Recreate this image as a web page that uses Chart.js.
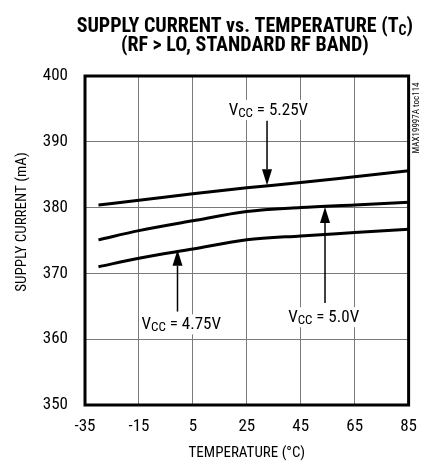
<!DOCTYPE html>
<html>
<head>
<meta charset="utf-8">
<script src="https://cdn.jsdelivr.net/npm/chart.js@4.4.0/dist/chart.umd.min.js"></script>
<style>
    html, body { margin: 0; padding: 0; background: #fff; }
</style>
</head>
<body>
<canvas id="chart" width="429" height="464"></canvas>
<script>
// Data
const temps = [-30, -15, 5, 25, 45, 65, 85];
const vcc525 = [380.4, 381.1, 382.1, 383.0, 383.8, 384.7, 385.6];
const vcc500 = [375.1, 376.5, 378.0, 379.4, 380.0, 380.4, 380.8];
const vcc475 = [371.0, 372.3, 373.7, 375.1, 375.7, 376.2, 376.7];
const xTicks = [-35, -15, 5, 25, 45, 65, 85];
const yTicks = [350, 360, 370, 380, 390, 400];

const FONT = "'Roboto Condensed', 'Liberation Sans', sans-serif";

// Callouts: label, arrow x, arrow tail/tip and label centre (data units)
const callouts = [
    { value: '5.25V', x: 32.5, tail: 393.2, tip: 383.4, textX: 33, textY: 395.0 },
    { value: '5.0V', x: 54, tail: 365.5, tip: 380.1, textX: 53.5, textY: 363.5 },
    { value: '4.75V', x: -0.7, tail: 364.2, tip: 373.6, textX: 0.7, textY: 362.4 }
];

function toPoints(values) {
    return temps.map((t, i) => ({ x: t, y: values[i] }));
}

function lineSet(label, values) {
    return {
        label: label,
        data: toPoints(values),
        borderColor: '#000',
        borderWidth: 3,
        pointRadius: 0,
        tension: 0.25,
        cubicInterpolationMode: 'monotone',
        fill: false
    };
}

// text runs: [text, font, baseline shift]
function drawRuns(ctx, runs, cx, baseY, clear) {
    let w = 0;
    runs.forEach(r => { ctx.font = r[1]; r.w = ctx.measureText(r[0]).width; w += r.w; });
    let x = cx - w / 2;
    if (clear) {
        ctx.fillStyle = '#fff';
        ctx.fillRect(x - 2, baseY - 15, w + 4, 20);
    }
    ctx.fillStyle = '#000';
    ctx.textAlign = 'left';
    ctx.textBaseline = 'alphabetic';
    runs.forEach(r => {
        ctx.font = r[1];
        ctx.fillText(r[0], x, baseY + r[2]);
        x += r.w;
    });
}

function drawArrow(ctx, x, yTail, yTip) {
    const dir = yTip > yTail ? 1 : -1;
    const headLen = 16, headHalf = 5;
    ctx.strokeStyle = '#000';
    ctx.lineWidth = 1.5;
    ctx.beginPath();
    ctx.moveTo(x, yTail);
    ctx.lineTo(x, yTip - dir * headLen);
    ctx.stroke();
    ctx.fillStyle = '#000';
    ctx.beginPath();
    ctx.moveTo(x, yTip);
    ctx.lineTo(x - headHalf, yTip - dir * headLen);
    ctx.lineTo(x + headHalf, yTip - dir * headLen);
    ctx.closePath();
    ctx.fill();
}

const decorPlugin = {
    id: 'decor',
    afterDatasetsDraw(chart) {
        const { ctx, chartArea, scales } = chart;
        const midX = (chartArea.left + chartArea.right) / 2 - 2;
        ctx.save();

        // frame
        ctx.strokeStyle = '#000';
        ctx.lineWidth = 3;
        ctx.strokeRect(chartArea.left, chartArea.top,
            chartArea.right - chartArea.left, chartArea.bottom - chartArea.top);

        callouts.forEach(c => {
            const x = scales.x.getPixelForValue(c.x);
            drawArrow(ctx, x, scales.y.getPixelForValue(c.tail), scales.y.getPixelForValue(c.tip));
            const big = '17px ' + FONT, small = '13px ' + FONT;
            drawRuns(ctx, [['V', big, 0], ['CC', small, 2], [' = ' + c.value, big, 0]],
                scales.x.getPixelForValue(c.textX), scales.y.getPixelForValue(c.textY) + 6, true);
        });

        // title
        const tb = 'bold 20px ' + FONT, ts = 'bold 14px ' + FONT;
        drawRuns(ctx, [['SUPPLY CURRENT vs. TEMPERATURE (T', tb, 0], ['C', ts, 3], [')', tb, 0]],
            midX, chartArea.top - 44, false);
        drawRuns(ctx, [['(RF > LO, STANDARD RF BAND)', tb, 0]], midX, chartArea.top - 25, false);

        // y-axis title
        ctx.save();
        ctx.translate(22, chartArea.top + 146);
        ctx.rotate(-Math.PI / 2);
        ctx.font = '15px ' + FONT;
        ctx.textAlign = 'center';
        ctx.textBaseline = 'middle';
        ctx.fillText('SUPPLY CURRENT (mA)', 0, 0);
        ctx.restore();

        // figure tag on the right edge
        ctx.translate(chartArea.right + 8, chartArea.top + 42);
        ctx.rotate(-Math.PI / 2);
        ctx.font = '9px ' + FONT;
        ctx.fillStyle = '#000';
        ctx.textAlign = 'center';
        ctx.textBaseline = 'middle';
        ctx.fillText('MAX19997A toc114', 0, 0);
        ctx.restore();
    }
};

const ctx = document.getElementById('chart').getContext('2d');
new Chart(ctx, {
    type: 'line',
    data: {
        datasets: [
            lineSet('VCC = 5.25V', vcc525),
            lineSet('VCC = 5.0V', vcc500),
            lineSet('VCC = 4.75V', vcc475)
        ]
    },
    options: {
        responsive: false,
        devicePixelRatio: 1,
        animation: false,
        layout: { padding: { left: 0, right: 16, top: 76, bottom: 0 } },
        plugins: {
            legend: { display: false },
            tooltip: { enabled: false },
            title: { display: false }
        },
        scales: {
            x: {
                type: 'linear',
                min: -35,
                max: 85,
                afterBuildTicks: s => { s.ticks = xTicks.map(v => ({ value: v })); },
                afterFit: s => { s.height = 59; },
                border: { display: false },
                grid: { color: '#7a7a7a', lineWidth: 1, drawTicks: false },
                ticks: { color: '#000', padding: 12, font: { family: FONT, size: 17 } },
                title: {
                    display: true,
                    text: 'TEMPERATURE (°C)',
                    color: '#000',
                    font: { family: FONT, size: 15 },
                    padding: { top: 0, bottom: 2 }
                }
            },
            y: {
                min: 350,
                max: 400,
                afterBuildTicks: s => { s.ticks = yTicks.map(v => ({ value: v })); },
                afterFit: s => { s.width = 85; },
                border: { display: false },
                grid: { color: '#7a7a7a', lineWidth: 1, drawTicks: false },
                ticks: { color: '#000', padding: 17, font: { family: FONT, size: 17 } }
            }
        }
    },
    plugins: [decorPlugin]
});
</script>
</body>
</html>
